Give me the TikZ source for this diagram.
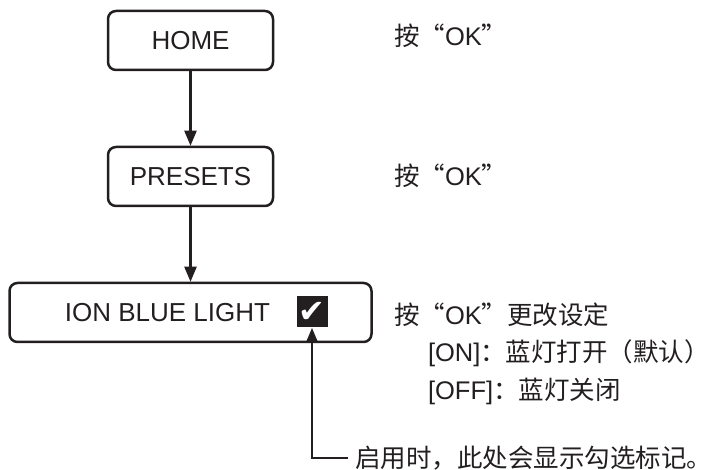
\documentclass[tikz,border=0pt]{standalone}
\usepackage{fontspec}
\setmainfont{Liberation Sans}
\newfontfamily\cjk{Noto Sans CJK SC}
\newfontfamily\symbolfont{DejaVu Sans}
\usetikzlibrary{arrows.meta}
\definecolor{inkdark}{RGB}{35, 31, 32}
\tikzset{
  % --- BOXES ---
  menu-box/.style={
    draw=inkdark,
    line width=1.25pt,
    rounded corners=4pt,
    minimum width=82.5pt,
    minimum height=29.5pt,
    inner sep=0pt,
    text=inkdark,
    font=\fontsize{13}{15}\selectfont
  },
  menu-text/.style={
    text=inkdark,
    inner sep=0pt,
    font=\fontsize{13}{15}\selectfont
  },
  tick-box/.style={
    fill=inkdark,
    text=white,
    minimum size=15.5pt,
    inner sep=0pt,
    font=\symbolfont\fontsize{16}{16}\selectfont
  },
  % --- NOTES ---
  note-text/.style={
    text=inkdark,
    anchor=base west,
    font=\fontsize{12.75}{15}\selectfont
  },
  % --- ARROWS ---
  arrw/.style={
    draw=inkdark,
    line width=1.1pt,
    -{Triangle[length=7.5pt,width=6pt]}
  },
}
\begin{document}
\begin{tikzpicture}[x=0.5pt, y=-0.5pt]

  \useasboundingbox (0,0) rectangle (718,470);
  % --- menu chain
  \node[menu-box] (home)    at (190.5,40.5)  {HOME};
  \node[menu-box] (presets) at (190.5,176.5) {PRESETS};
  \node[menu-box, minimum width=181pt] (ionbox) at (190.5,312.5) {};
  \node[menu-text] (iontext) at (167.5,312.5) {ION BLUE LIGHT};
  \node[tick-box] (tick) at (312,312) {✔};
  \draw[arrw] (home) -- (presets);
  \draw[arrw] (presets) -- (ionbox);
  % --- notes on the right
  \node[note-text] (okhome)    at (387,46)  {{\cjk 按“}OK{\cjk ”}};
  \node[note-text] (okpresets) at (387,186) {{\cjk 按“}OK{\cjk ”}};
  \node[note-text] (okion)     at (387,325) {{\cjk 按“}OK{\cjk ”更改设定}};
  \node[note-text] (lighton)   at (421,362) {[ON]{\cjk ：蓝灯打开（默认）}};
  \node[note-text] (lightoff)  at (421,400) {[OFF]{\cjk ：蓝灯关闭}};
  \node[note-text] (ticknote)  at (348,467) {\cjk 启用时，此处会显示勾选标记。};
  \draw[arrw] (ticknote.west) -| (tick.south);

\end{tikzpicture}
\end{document}
